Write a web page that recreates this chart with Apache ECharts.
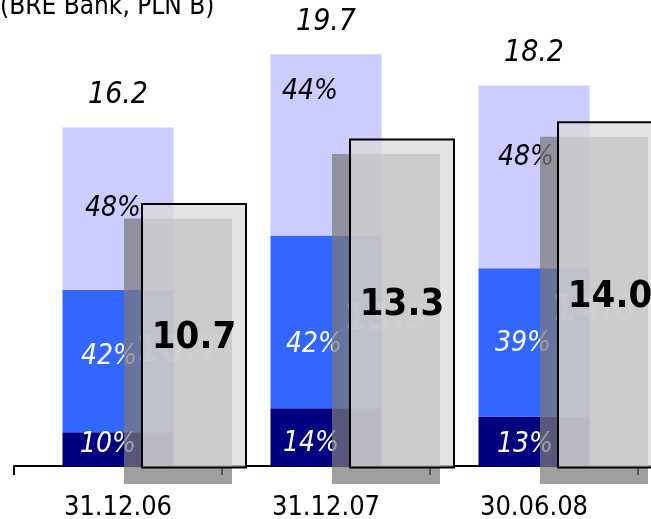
<!DOCTYPE html>
<html>
<head>
<meta charset="utf-8">
<title>BRE Bank</title>
<script src="https://cdn.jsdelivr.net/npm/echarts@6/dist/echarts.min.js"></script>
<style>
  html, body { margin: 0; padding: 0; background: #ffffff; }
  #chart { width: 651px; height: 519px; }
</style>
</head>
<body>
<div id="chart"></div>
<script>
// Period labels (the fourth band is left empty)
const categories = ['31.12.06', '31.12.07', '30.06.08', ''];
// Total of the stacked column, PLN B
const totals = [16.2, 19.7, 18.2];
// Shares of the total, % (bottom, middle, top segment)
const shareBottom = [10, 14, 13];
const shareMiddle = [42, 42, 39];
const shareTop = [48, 44, 48];
// Value of the framed grey column, PLN B
const frameValues = [10.7, 13.3, 14.0];

const FONT = '"DejaVu Sans Condensed", "DejaVu Sans", sans-serif';

// label nudges for the percentage texts, per column [dx, dy]
const shiftBottom = [[-10, -4], [-15, 7], [-9, 3]];
const shiftMiddle = [[-9, -4], [-12, 23], [-11, 1]];
const shiftTop = [[-5, 0], [-16, -53], [-8, -19]];

function segment(shares, shifts) {
  return shares.map((s, i) => ({
    value: totals[i] * s / 100,
    share: s,
    label: { offset: shifts[i] }
  }));
}

function pctLabel(color) {
  return {
    show: true,
    position: 'inside',
    formatter: p => p.data.share + '%',
    color: color,
    fontFamily: FONT,
    fontStyle: 'italic',
    fontSize: 28
  };
}

const hiddenCat = { type: 'category', data: categories, show: false };
const chart = echarts.init(document.getElementById('chart'), null, { renderer: 'canvas' });

chart.setOption({
  animation: false,
  backgroundColor: '#ffffff',
  title: {
    text: '(BRE Bank, PLN B)',
    left: -5,
    top: -11,
    textStyle: { fontFamily: FONT, fontSize: 26, fontWeight: 'normal', color: '#000' }
  },
  grid: [
    { left: 14, width: 832, top: 48, bottom: 53, outerBoundsMode: 'none', containLabel: false },
    { left: 90, width: 832, top: 22, bottom: 50.5, outerBoundsMode: 'none', containLabel: false },
    { left: 74, width: 832, top: 37.5, bottom: 35, outerBoundsMode: 'none', containLabel: false }
  ],
  xAxis: [
    {
      type: 'category',
      data: categories,
      gridIndex: 0,
      axisLine: { lineStyle: { color: '#000', width: 2 } },
      axisTick: { show: true, length: 9, lineStyle: { color: '#000', width: 2 } },
      axisLabel: { color: '#000', fontFamily: FONT, fontSize: 27, margin: 28 }
    },
    Object.assign({ gridIndex: 1 }, hiddenCat),
    Object.assign({ gridIndex: 2 }, hiddenCat)
  ],
  yAxis: [
    { type: 'value', gridIndex: 0, min: 0, max: 20, show: false, splitLine: { show: false } },
    { type: 'value', gridIndex: 1, min: 0, max: 18, show: false, splitLine: { show: false } },
    { type: 'value', gridIndex: 2, min: 0, max: 18, show: false, splitLine: { show: false } }
  ],
  series: [
    {
      type: 'bar', stack: 'total', barWidth: 111, z: 2,
      itemStyle: { color: '#000080' },
      label: pctLabel('#ffffff'),
      data: segment(shareBottom, shiftBottom)
    },
    {
      type: 'bar', stack: 'total', barWidth: 111, z: 2,
      itemStyle: { color: '#3366ff' },
      label: pctLabel('#ffffff'),
      data: segment(shareMiddle, shiftMiddle)
    },
    {
      type: 'bar', stack: 'total', barWidth: 111, z: 2,
      itemStyle: { color: '#ccccff' },
      label: pctLabel('#000000'),
      data: segment(shareTop, shiftTop)
    },
    {
      // column totals written above the stack
      type: 'bar', barWidth: 111, barGap: '-100%', z: 5,
      itemStyle: { color: 'rgba(0,0,0,0)' },
      label: {
        show: true, position: 'top', distance: 17,
        formatter: p => p.value.toFixed(1),
        color: '#000', fontFamily: FONT, fontStyle: 'italic', fontSize: 30
      },
      data: totals
    },
    {
      // drop shadow of the framed column
      type: 'bar', xAxisIndex: 2, yAxisIndex: 2, barWidth: 108, z: 3,
      itemStyle: { color: 'rgba(122,122,122,0.72)' },
      label: {
        show: true, position: 'inside',
        formatter: p => p.value.toFixed(1),
        color: 'rgba(200,200,200,0.3)', fontFamily: FONT, fontWeight: 'bold', fontSize: 38
      },
      data: frameValues
    },
    {
      type: 'bar', xAxisIndex: 1, yAxisIndex: 1, barWidth: 106, z: 4,
      itemStyle: { color: 'rgba(219,219,219,0.75)', borderColor: '#000', borderWidth: 2 },
      label: {
        show: true, position: 'inside', offset: [0, 2],
        formatter: p => p.value.toFixed(1),
        color: '#000', fontFamily: FONT, fontWeight: 'bold', fontSize: 38
      },
      data: frameValues
    }
  ]
});
</script>
</body>
</html>
